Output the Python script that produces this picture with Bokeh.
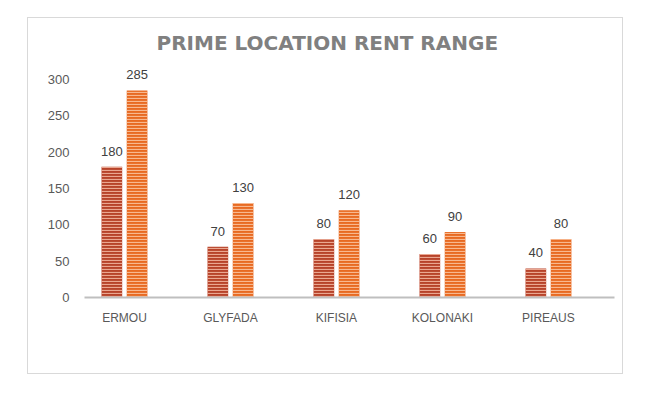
from bokeh.plotting import figure
from bokeh.models import ColumnDataSource, FixedTicker, Range1d
from bokeh.transform import dodge
from bokeh.core.properties import value
from bokeh.embed import file_html
from bokeh.resources import INLINE

locations = ["ERMOU", "GLYFADA", "KIFISIA", "KOLONAKI", "PIREAUS"]
rent_low = [180, 70, 80, 60, 40]
rent_high = [285, 130, 120, 90, 80]
y_ticks = [0, 50, 100, 150, 200, 250, 300]

idx = list(range(len(locations)))
src = ColumnDataSource(dict(
    x=idx,
    low=rent_low,
    high=rent_high,
    low_txt=[str(v) for v in rent_low],
    high_txt=[str(v) for v in rent_high],
))

p = figure(width=596, height=357, output_backend="svg", toolbar_location=None,
           x_range=Range1d(-0.377, 4.623), y_range=Range1d(0, 324.8),
           min_border_left=56, min_border_right=10, min_border_top=43, min_border_bottom=78)
p.margin = (17, 0, 0, 27)
p.styles = {"border": "1px solid #d9d9d9"}

p.outline_line_color = None
p.grid.visible = False
p.background_fill_color = "white"
p.border_fill_color = "white"

W = 0.195
OFF = 0.119
p.vbar(x=dodge("x", -OFF), top="low", width=W, source=src,
       fill_color="#b7432a", line_color=None,
       hatch_pattern="horizontal_line", hatch_color="#f3b9a3", hatch_scale=3, hatch_weight=1.2, hatch_alpha=0.85)
p.vbar(x=dodge("x", OFF), top="high", width=W, source=src,
       fill_color="#e86a22", line_color=None,
       hatch_pattern="horizontal_line", hatch_color="#fac6a2", hatch_scale=3, hatch_weight=1.2, hatch_alpha=0.85)

for off, col in ((-OFF, "low"), (OFF, "high")):
    p.text(x=dodge("x", off), y=col, text=col + "_txt", source=src,
           text_align="center", text_baseline="bottom", y_offset=-11,
           text_font_size="13px", text_color="#404040", text_font=value("Liberation Sans"))

# x axis
xa = p.xaxis[0]
xa.ticker = FixedTicker(ticks=idx)
xa.major_label_overrides = {i: name for i, name in enumerate(locations)}
xa.axis_line_color = "#bfbfbf"
xa.axis_line_width = 2
xa.major_tick_line_color = None
xa.minor_tick_line_color = None
xa.major_label_standoff = 7
xa.major_label_text_font_size = "12px"
xa.major_label_text_color = "#595959"
xa.major_label_text_font = "Liberation Sans"

# y axis
ya = p.yaxis[0]
ya.ticker = FixedTicker(ticks=y_ticks)
ya.axis_line_color = None
ya.major_tick_line_color = None
ya.minor_tick_line_color = None
ya.major_label_standoff = 9
ya.major_label_text_font_size = "13px"
ya.major_label_text_color = "#595959"
ya.major_label_text_font = "Liberation Sans"

# title
p.title.text = "PRIME LOCATION RENT RANGE"
p.title.align = "left"
p.title.offset = 72
p.title.text_font = "DejaVu Sans"
p.title.text_font_size = "20px"
p.title.text_font_style = "bold"
p.title.text_color = "#808080"
p.title.standoff = 14

open("out.html", "w").write(file_html(p, INLINE))
